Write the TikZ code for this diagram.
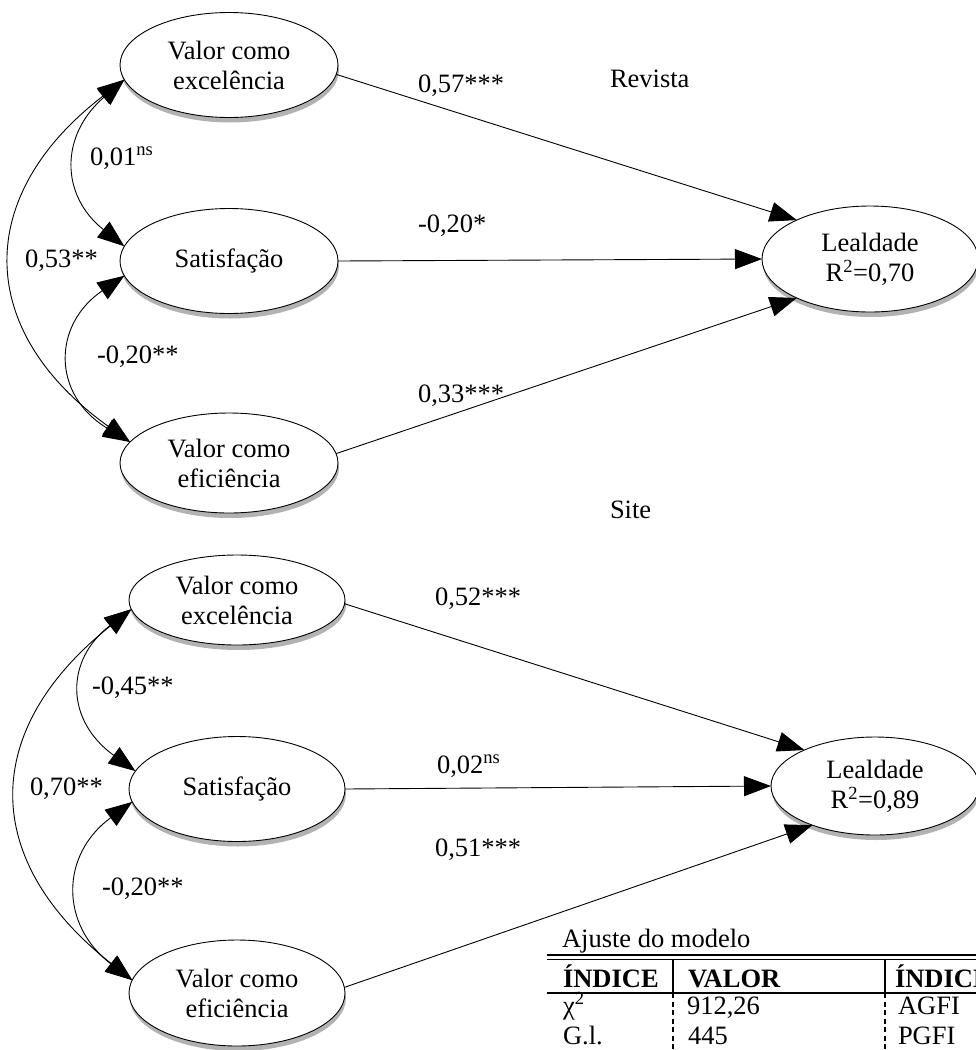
\documentclass[tikz,border=0pt]{standalone}
\usepackage{fontspec}
\setmainfont{Liberation Serif}
\usetikzlibrary{arrows.meta,shapes.geometric,shadows}
\begin{document}
\begin{tikzpicture}[x=1pt,y=-1pt,
  every node/.style={font=\fontsize{26.5}{30}\selectfont, inner sep=0pt, outer sep=0pt},
  lat/.style={ellipse, draw, fill=white, line width=0.9pt, minimum width=218pt, minimum height=105pt, align=center,
    drop shadow={shadow xshift=1pt, shadow yshift=-5pt, fill=black!30, opacity=1}},
  >={Triangle[length=27pt,width=20pt]},
  reg/.style={line width=0.9pt, ->},
  cov/.style={line width=0.9pt, <->},
  lab/.style={anchor=base west},
  hd/.style={anchor=base west, font=\fontsize{26.5}{30}\selectfont\bfseries},
]
\path[use as bounding box] (0,0) rectangle (976,1050);
\clip (0,0) rectangle (976,1050);

% ---------- Revista ----------
\node[lat] (exc1) at (229,65) {Valor como\\excelência};
\node[lat] (sat1) at (229,261) {Satisfação};
\node[lat, minimum height=100pt] (eff1) at (229,463) {Valor como\\eficiência};
\node[lat, minimum width=216pt, minimum height=106pt] (lea1) at (870,259) {Lealdade\\R\textsuperscript{2}=0,70};

\draw[reg] (exc1.-5) -- (lea1.152);
\draw[reg] (sat1.east) -- (lea1.west);
\draw[reg] (eff1.5) -- (lea1.208);

\draw[cov] (exc1.188) .. controls (60,135) and (60,195) .. (sat1.172);
\draw[cov] (exc1.188) .. controls (-26,195) and (-26,330) .. (eff1.168);
\draw[cov] (sat1.188) .. controls (52,325) and (52,395) .. (eff1.168);

\node[lab] (rev) at (610,87) {Revista};
\node[lab] (l1) at (418,92) {0,57***};
\node[lab] (l2) at (418,232) {-0,20*};
\node[lab] (l3) at (418,402) {0,33***};
\node[lab] (c1) at (90,165) {0,01\textsuperscript{ns}};
\node[lab] (c2) at (25,267) {0,53**};
\node[lab] (c3) at (97,363) {-0,20**};

% ---------- Site ----------
\node[lat, minimum width=216pt, minimum height=90pt] (exc2) at (237,600) {Valor como\\excelência};
\node[lat, minimum width=216pt] (sat2) at (237,789) {Satisfação};
\node[lat, minimum width=216pt, minimum height=106pt] (eff2) at (237,993) {Valor como\\eficiência};
\node[lat, minimum width=208pt, minimum height=98pt] (lea2) at (875,786) {Lealdade\\R\textsuperscript{2}=0,89};

\draw[reg] (exc2.-2) -- (lea2.153);
\draw[reg] (sat2.east) -- (lea2.west);
\draw[reg] (eff2.3) -- (lea2.212);

\draw[cov] (exc2.185) .. controls (65,660) and (65,720) .. (sat2.170);
\draw[cov] (exc2.185) .. controls (-20,730) and (-20,860) .. (eff2.173);
\draw[cov] (sat2.187) .. controls (60,855) and (60,925) .. (eff2.173);

\node[lab] (site) at (610,518) {Site};
\node[lab] (m1) at (435,605) {0,52***};
\node[lab] (m2) at (437,773) {0,02\textsuperscript{ns}};
\node[lab] (m3) at (435,856) {0,51***};
\node[lab] (d1) at (92,694) {-0,45**};
\node[lab] (d2) at (30,795) {0,70**};
\node[lab] (d3) at (102,895) {-0,20**};

% ---------- Table ----------
\node[lab] (ttl) at (562,947) {Ajuste do modelo};
\draw[line width=1.5pt] (547,955) -- (976,955);
\draw[line width=1.5pt] (547,959.5) -- (976,959.5);
\draw[line width=1.8pt] (547,993) -- (976,993);
\draw[line width=1.8pt] (673,960) -- (673,993);
\draw[line width=1.8pt] (885,960) -- (885,993);
\draw[line width=1.5pt, dash pattern=on 5pt off 3.5pt] (673,993) -- (673,1050);
\draw[line width=1.5pt, dash pattern=on 5pt off 3.5pt] (885,993) -- (885,1050);
\node[hd] (h1) at (563,987) {ÍNDICE};
\node[hd] (h2) at (688,987) {VALOR};
\node[hd] (h3) at (895,987) {ÍNDICE};
\node[lab] (r11) at (563,1014) {χ\textsuperscript{2}};
\node[lab] (r12) at (687,1014) {912,26};
\node[lab] (r13) at (898,1014) {AGFI};
\node[lab] (r21) at (563,1044) {G.l.};
\node[lab] (r22) at (688,1044) {445};
\node[lab] (r23) at (898,1044) {PGFI};
\end{tikzpicture}
\end{document}
